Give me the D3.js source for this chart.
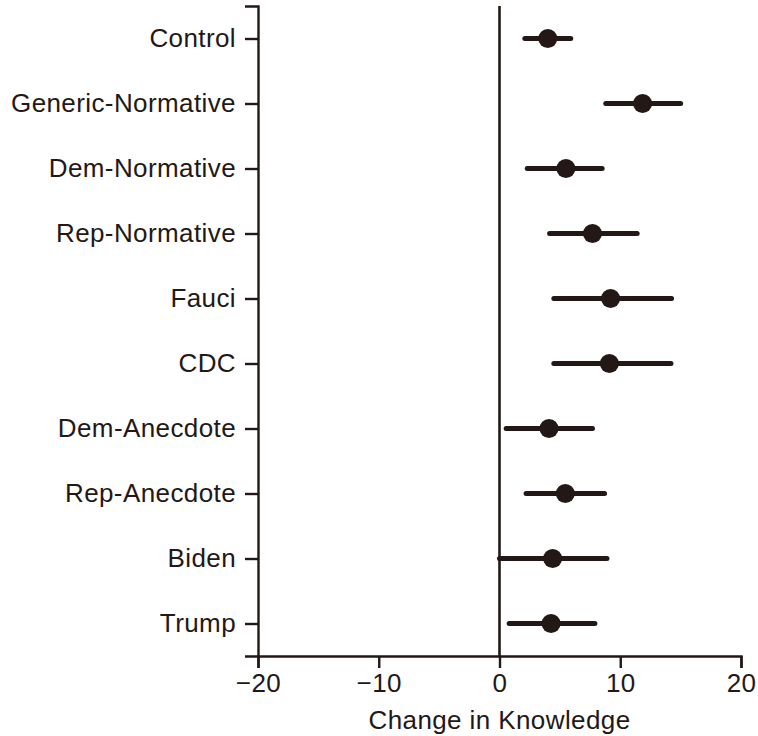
<!DOCTYPE html>
<html>
<head>
<script src="https://d3js.org/d3.v7.min.js"></script>
<style>
  body { margin: 0; background: #fff; }
  svg text { font-family: "Liberation Sans", Arial, sans-serif; fill: #231815; letter-spacing: 0.4px; }
</style>
</head>
<body>
<svg width="758" height="736"></svg>
<script>
// groups, point estimates and interval ends
var groups = ["Control", "Generic-Normative", "Dem-Normative", "Rep-Normative", "Fauci",
              "CDC", "Dem-Anecdote", "Rep-Anecdote", "Biden", "Trump"];
var estimate = [4.0, 11.85, 5.5, 7.7, 9.2, 9.1, 4.1, 5.45, 4.4, 4.27];
var lower    = [2.1, 8.8, 2.3, 4.15, 4.5, 4.5, 0.55, 2.2, 0.0, 0.8];
var upper    = [5.9, 15.0, 8.5, 11.4, 14.25, 14.2, 7.7, 8.7, 8.9, 7.9];
var xTicks   = [-20, -10, 0, 10, 20];

var ink = "#231815";
var svg = d3.select("svg");
var mLeft = 258, mRight = 741, mTop = 6, mBottom = 656;
var fontSize = "26px";

var x = d3.scaleLinear().domain([-20, 20]).range([mLeft, mRight]);
var y = d3.scalePoint().domain(groups).range([mTop, mBottom]).padding(0.5);

// x axis
var xa = svg.append("g")
    .attr("transform", "translate(0," + mBottom + ")")
    .call(d3.axisBottom(x).tickValues(xTicks).tickSize(12).tickPadding(6)
          .tickFormat(function (d) { return d < 0 ? "\u2212" + Math.abs(d) : d; }));
xa.select(".domain").attr("stroke", ink).attr("stroke-width", 2.4);
xa.selectAll(".tick line").attr("stroke", ink).attr("stroke-width", 2.4);
xa.selectAll(".tick text").style("font-size", fontSize).attr("fill", ink);

// y axis
var ya = svg.append("g")
    .attr("transform", "translate(" + mLeft + ",0)")
    .call(d3.axisLeft(y).tickSize(13).tickPadding(9));
ya.select(".domain").attr("stroke", ink).attr("stroke-width", 2.4);
ya.selectAll(".tick line").attr("stroke", ink).attr("stroke-width", 2.4);
ya.selectAll(".tick text").style("font-size", fontSize).attr("fill", ink);

// zero reference line
svg.append("line")
    .attr("x1", x(0)).attr("x2", x(0))
    .attr("y1", mTop).attr("y2", mBottom)
    .attr("stroke", ink).attr("stroke-width", 2.6);

// x label
svg.append("text")
    .attr("x", x(0)).attr("y", 729)
    .attr("text-anchor", "middle")
    .style("font-size", fontSize)
    .text("Change in Knowledge");

// intervals
svg.append("g").selectAll("line")
    .data(groups)
    .enter().append("line")
    .attr("x1", function (d, i) { return x(lower[i]); })
    .attr("x2", function (d, i) { return x(upper[i]); })
    .attr("y1", function (d) { return y(d); })
    .attr("y2", function (d) { return y(d); })
    .attr("stroke", ink)
    .attr("stroke-width", 5)
    .attr("stroke-linecap", "round");

// estimates
svg.append("g").selectAll("circle")
    .data(groups)
    .enter().append("circle")
    .attr("cx", function (d, i) { return x(estimate[i]); })
    .attr("cy", function (d) { return y(d); })
    .attr("r", 9.5)
    .attr("fill", ink);
</script>
</body>
</html>
